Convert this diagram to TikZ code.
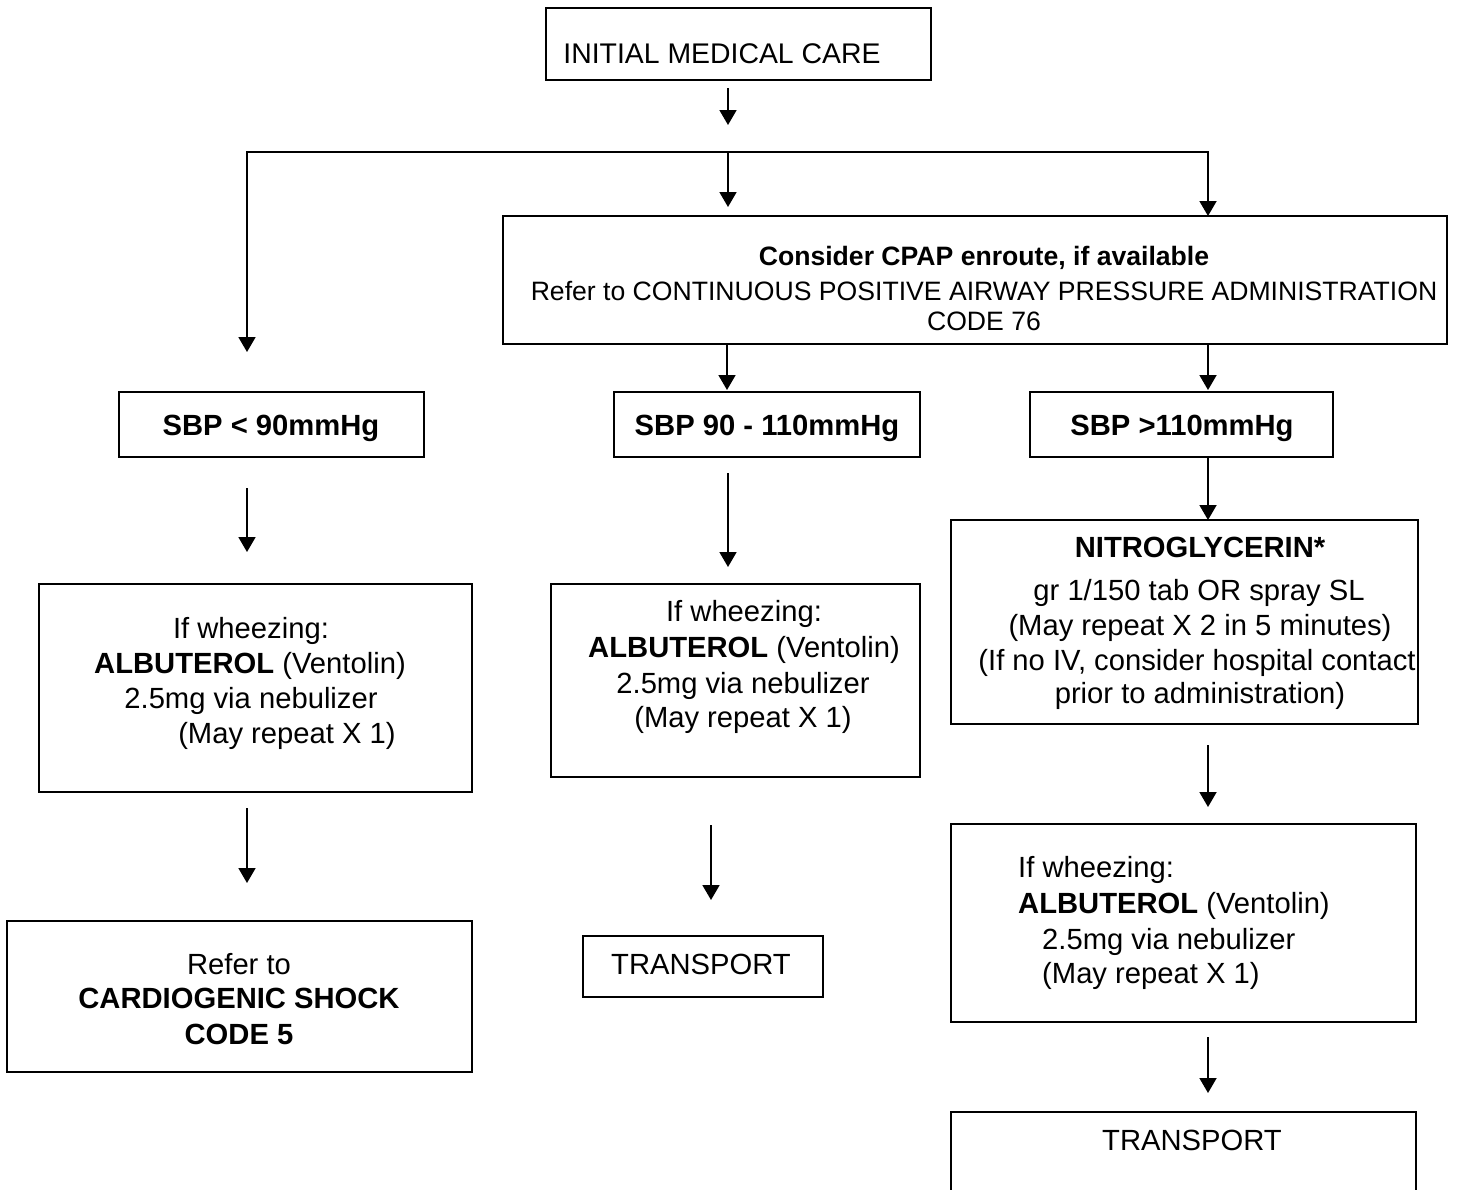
\documentclass[tikz,border=0pt]{standalone}
\usepackage{fontspec}
\setmainfont{Liberation Sans}
\usetikzlibrary{arrows.meta}

% rectangle given by its corners (x1,y1) and (x2,y2), y measured downwards
\newcommand\flowbox[5]{%
  \node[flow, minimum width={(#4-#2)*1pt}, minimum height={(#5-#3)*1pt}]
    (#1) at ({(#2+#4)/2},{(#3+#5)/2}) {};}

\begin{document}
\begin{tikzpicture}[x=1pt, y=-1pt,
  flow/.style={draw, line width=2.2pt, inner sep=0pt, outer sep=0pt, rectangle},
  lbl/.style={inner sep=0pt, anchor=base, font=\fontsize{29.2}{35}\selectfont},
  lblw/.style={lbl, anchor=base west},
  arr/.style={line width=1.8pt, -{Triangle[width=17pt,length=15pt]}},
  arrtwo/.style={line width=1.8pt, line join=miter,
    {Triangle[width=17pt,length=15pt]}-{Triangle[width=17pt,length=15pt]}}]

\clip (0,0) rectangle (1474,1189);
\fill[white] (0,0) rectangle (1474,1189);

% ---- boxes ----
\flowbox{init}{546}{8}{931}{80}
\flowbox{cpap}{503}{216}{1447}{344}
\flowbox{sbpL}{119}{392}{424}{457}
\flowbox{sbpM}{614}{392}{920}{457}
\flowbox{sbpR}{1030}{392}{1333}{457}
\flowbox{wheezeL}{39}{584}{472}{792}
\flowbox{wheezeM}{551}{584}{920}{777}
\flowbox{nitro}{951}{520}{1418}{724}
\flowbox{shock}{7}{921}{472}{1072}
\flowbox{transM}{583}{936}{823}{997}
\flowbox{wheezeR}{951}{824}{1416}{1022}
\flowbox{transR}{951}{1112}{1416}{1220}

% ---- texts ----
\node[lbl, font=\fontsize{28.4}{34}\selectfont] (tInit) at (722,63) {INITIAL MEDICAL CARE};

\node[lbl, font=\fontsize{26.6}{32}\selectfont\bfseries] (tCpap1) at (984,265) {Consider CPAP enroute, if available};
\node[lbl, font=\fontsize{26.6}{32}\selectfont] (tCpap2) at (984,300) {Refer to CONTINUOUS POSITIVE AIRWAY PRESSURE ADMINISTRATION};
\node[lbl, font=\fontsize{26.6}{32}\selectfont] (tCpap3) at (984,330) {CODE 76};

\node[lbl, font=\fontsize{29.2}{35}\selectfont\bfseries] (tSbpL) at (271,435) {SBP < 90mmHg};
\node[lbl, font=\fontsize{29.2}{35}\selectfont\bfseries] (tSbpM) at (767,435) {SBP 90 - 110mmHg};
\node[lbl, font=\fontsize{29.2}{35}\selectfont\bfseries] (tSbpR) at (1182,435) {SBP >110mmHg};

\node[lbl] (tWL1) at (251,638) {If wheezing:};
\node[lbl] (tWL2) at (250,673) {\textbf{ALBUTEROL} (Ventolin)};
\node[lbl] (tWL3) at (251,708) {2.5mg via nebulizer};
\node[lbl] (tWL4) at (287,743) {(May repeat X 1)};

\node[lbl] (tWM1) at (744,621) {If wheezing:};
\node[lbl] (tWM2) at (744,657) {\textbf{ALBUTEROL} (Ventolin)};
\node[lbl] (tWM3) at (743,693) {2.5mg via nebulizer};
\node[lbl] (tWM4) at (743,727) {(May repeat X 1)};

\node[lbl] (tN1) at (1200,557) {\textbf{NITROGLYCERIN*}};
\node[lbl] (tN2) at (1199,600) {gr 1/150 tab OR spray SL};
\node[lbl] (tN3) at (1200,635) {(May repeat X 2 in 5 minutes)};
\node[lbl] (tN4) at (1197,670) {(If no IV, consider hospital contact};
\node[lbl] (tN5) at (1200,703) {prior to administration)};

\node[lbl] (tS1) at (239,974) {Refer to};
\node[lbl] (tS2) at (239,1008) {\textbf{CARDIOGENIC SHOCK}};
\node[lbl] (tS3) at (239,1044) {\textbf{CODE 5}};

\node[lblw] (tTM) at (611,974) {TRANSPORT};

\node[lblw] (tWR1) at (1018,877) {If wheezing:};
\node[lblw] (tWR2) at (1018,913) {\textbf{ALBUTEROL} (Ventolin)};
\node[lblw] (tWR3) at (1042,949) {2.5mg via nebulizer};
\node[lblw] (tWR4) at (1042,983) {(May repeat X 1)};

\node[lbl] (tTR) at (1192,1150) {TRANSPORT};

% ---- connector end points ----
\coordinate (a0s) at (728,88);   \coordinate (a0e) at (728,125);
\coordinate (brL) at (247,352);  \coordinate (cnL) at (247,152);
\coordinate (cnR) at (1208,152);
\coordinate (brM) at (728,152);  \coordinate (brMe) at (728,207);
\coordinate (colM) at (727,0);   \coordinate (colR) at (1208,0);
\coordinate (a1s) at (247,488);  \coordinate (a1e) at (247,552);
\coordinate (a2s) at (728,473);  \coordinate (a2e) at (728,567);
\coordinate (a3s) at (247,808);  \coordinate (a3e) at (247,883);
\coordinate (a4s) at (711,825);  \coordinate (a4e) at (711,900);
\coordinate (a5s) at (1208,745); \coordinate (a5e) at (1208,807);
\coordinate (a6s) at (1208,1037);\coordinate (a6e) at (1208,1093);
\coordinate (p1) at (727,390);   \coordinate (p2) at (1208,390);

% ---- connectors ----
\draw[arr] (a0s) -- (a0e);
\draw[arrtwo] (brL) -- (cnL) -- (cnR) -- (cpap.north -| colR);
\draw[arr] (brM) -- (brMe);
\draw[arr] (cpap.south -| colM) -- (p1);
\draw[arr] (cpap.south -| colR) -- (p2);
\draw[arr] (a1s) -- (a1e);
\draw[arr] (a2s) -- (a2e);
\draw[arr] (sbpR.south -| colR) -- (nitro.north -| colR);
\draw[arr] (a3s) -- (a3e);
\draw[arr] (a4s) -- (a4e);
\draw[arr] (a5s) -- (a5e);
\draw[arr] (a6s) -- (a6e);
\end{tikzpicture}
\end{document}
